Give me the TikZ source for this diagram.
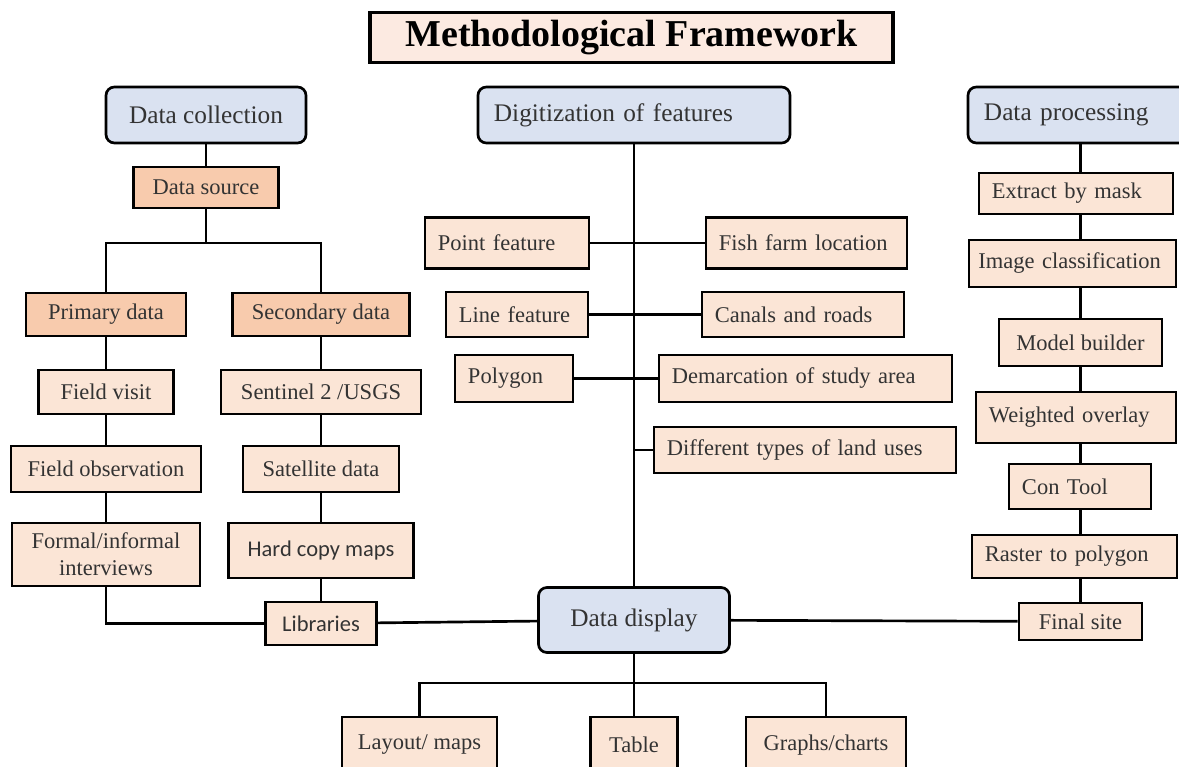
\documentclass[tikz,border=0pt]{standalone}
\usepackage{fontspec}
\setmainfont{Liberation Serif}
\newfontfamily\calibri{Carlito}
\definecolor{headblue}{HTML}{DAE2F1}
\definecolor{peach}{HTML}{FBE5D6}
\definecolor{apricot}{HTML}{F8CBAD}
\definecolor{titlepeach}{HTML}{FCEAE1}
\definecolor{inkgray}{HTML}{333333}
\begin{document}
\begin{tikzpicture}[x = 0.025cm, y = -0.025cm,
        wh/.style 2 args = {minimum width = #1*0.025cm, minimum height = #2*0.025cm},
        ht/.style = {minimum height = #1*0.025cm},
        box/.style = {draw, line width = 1.9pt, fill = peach, text = inkgray, inner xsep = 0.325cm, inner ysep = 0pt, align = center, font = \fontsize{16}{19}\selectfont},
        dark/.style = {box, fill = apricot},
        lbox/.style = {box, align = left, text width = #1},
        head/.style = {box, fill = headblue, rounded corners = 6pt, inner xsep = 0.4cm, font = \fontsize{18}{21}\selectfont},
        sans/.style = {font = \calibri\fontsize{16}{19}\selectfont},
        link/.style = {line width = 1.9pt}]
        \path[use as bounding box, fill = white] (0, 0) rectangle (1179, 767);
        \clip (0, 0) rectangle (1179, 767);
        \node[box, line width = 2.2pt, fill = titlepeach, text = black, wh = {523}{50}, font = \fontsize{27}{30}\selectfont\bfseries] (title) at (631.5, 37.5) {Methodological Framework};
        % headers
        \node[head, wh = {200}{56}] (dcol) at (206, 115) {Data collection};
        \node[head, ht = 56, align = left, text width = 7cm] (digi) at (634, 115) {Digitization of features};
        \node[head, ht = 56, align = left, text width = 4.8cm] (dproc) at (1080, 115) {Data processing};
        \node[head, wh = {191}{65}] (disp) at (634, 620) {Data display};
        % data collection
        \node[dark, wh = {145}{41}] (dsrc) at (206, 187.5) {Data source};
        \coordinate (split) at (206, 243);
        \node[dark, wh = {160}{43}] (prim) at (106, 314.5) {Primary data};
        \node[dark, wh = {177}{43}] (sec) at (321, 314.5) {Secondary data};
        \node[box, wh = {135}{44}] (visit) at (106, 392) {Field visit};
        \node[box, wh = {200}{44}] (sent) at (321, 392) {Sentinel 2 /USGS};
        \node[box, wh = {190}{46}] (obs) at (106, 469) {Field observation};
        \node[box, wh = {156}{46}] (sat) at (321, 469) {Satellite data};
        \node[box, wh = {188}{63}] (intv) at (106, 554.5) {Formal/informal\\interviews};
        \node[box, sans, wh = {185}{55}] (hard) at (321, 550.5) {Hard copy maps};
        \node[box, sans, wh = {111}{43}] (lib) at (321, 623.5) {Libraries};
        % digitization
        \node[lbox = 3.45cm, ht = 51] (point) at (507, 243) {Point feature};
        \node[lbox = 4.375cm, ht = 51] (fish) at (806.5, 243) {Fish farm location};
        \node[lbox = 2.9cm, ht = 45] (linef) at (517, 314.5) {Line feature};
        \node[lbox = 4.4cm, ht = 45] (canal) at (803, 314.5) {Canals and roads};
        \node[lbox = 2.3cm, ht = 47] (poly) at (514, 378.5) {Polygon};
        \node[lbox = 6.675cm, ht = 47] (dem) at (805.5, 378.5) {Demarcation of study area};
        \node[lbox = 6.9cm, ht = 46] (diff) at (805, 450) {Different types of land uses};
        % data processing
        \node[lbox = 4.2cm, ht = 41] (ext) at (1076, 193.5) {Extract by mask};
        \node[lbox = 4.7cm, ht = 47, inner xsep = 0.24cm] (img) at (1072.5, 263.5) {Image classification};
        \node[box, wh = {163}{47}] (model) at (1080.5, 342.5) {Model builder};
        \node[lbox = 4.35cm, ht = 51] (wov) at (1076, 417.5) {Weighted overlay};
        \node[lbox = 2.9cm, ht = 45] (con) at (1080, 486.5) {Con Tool};
        \node[lbox = 4.475cm, ht = 43] (ras) at (1074.5, 556.5) {Raster to polygon};
        \node[box, wh = {123}{37}] (fin) at (1080.5, 621.5) {Final site};
        % data display
        \coordinate (split2) at (634, 683);
        \node[box, wh = {155}{56}] (lay) at (419.5, 745) {Layout/ maps};
        \node[box, wh = {87}{56}] (tab) at (634, 745) {Table};
        \node[box, wh = {160}{56}] (graph) at (826, 745) {Graphs/charts};
        % connectors
        \draw[link] (dcol) -- (dsrc);
        \draw[link] (dsrc) -- (split);
        \draw[link] (prim.north) |- (split) -| (sec.north);
        \foreach \a/\b in {prim/visit, visit/obs, obs/intv, sec/sent, sent/sat, sat/hard, hard/lib}
            \draw[link] (\a) -- (\b);
        \draw[link] (intv.south) |- (lib.west);
        \draw[link] (lib) -- (disp);
        \draw[link] (digi) -- (disp);
        \draw[link] (point) -- (fish);
        \draw[link] (linef) -- (canal);
        \draw[link] (poly) -- (dem);
        \draw[link] (diff.west) -- (diff.west -| disp.north);
        \draw[link] (disp) -- (fin);
        \foreach \a/\b in {dproc/ext, ext/img, img/model, model/wov, wov/con, con/ras, ras/fin}
            \draw[link] (\a.south -| fin.north) -- (\b.north -| fin.north);
        \draw[link] (disp) -- (split2);
        \draw[link] (lay.north) |- (split2) -| (graph.north);
        \draw[link] (split2) -- (tab);
    \end{tikzpicture}
\end{document}
